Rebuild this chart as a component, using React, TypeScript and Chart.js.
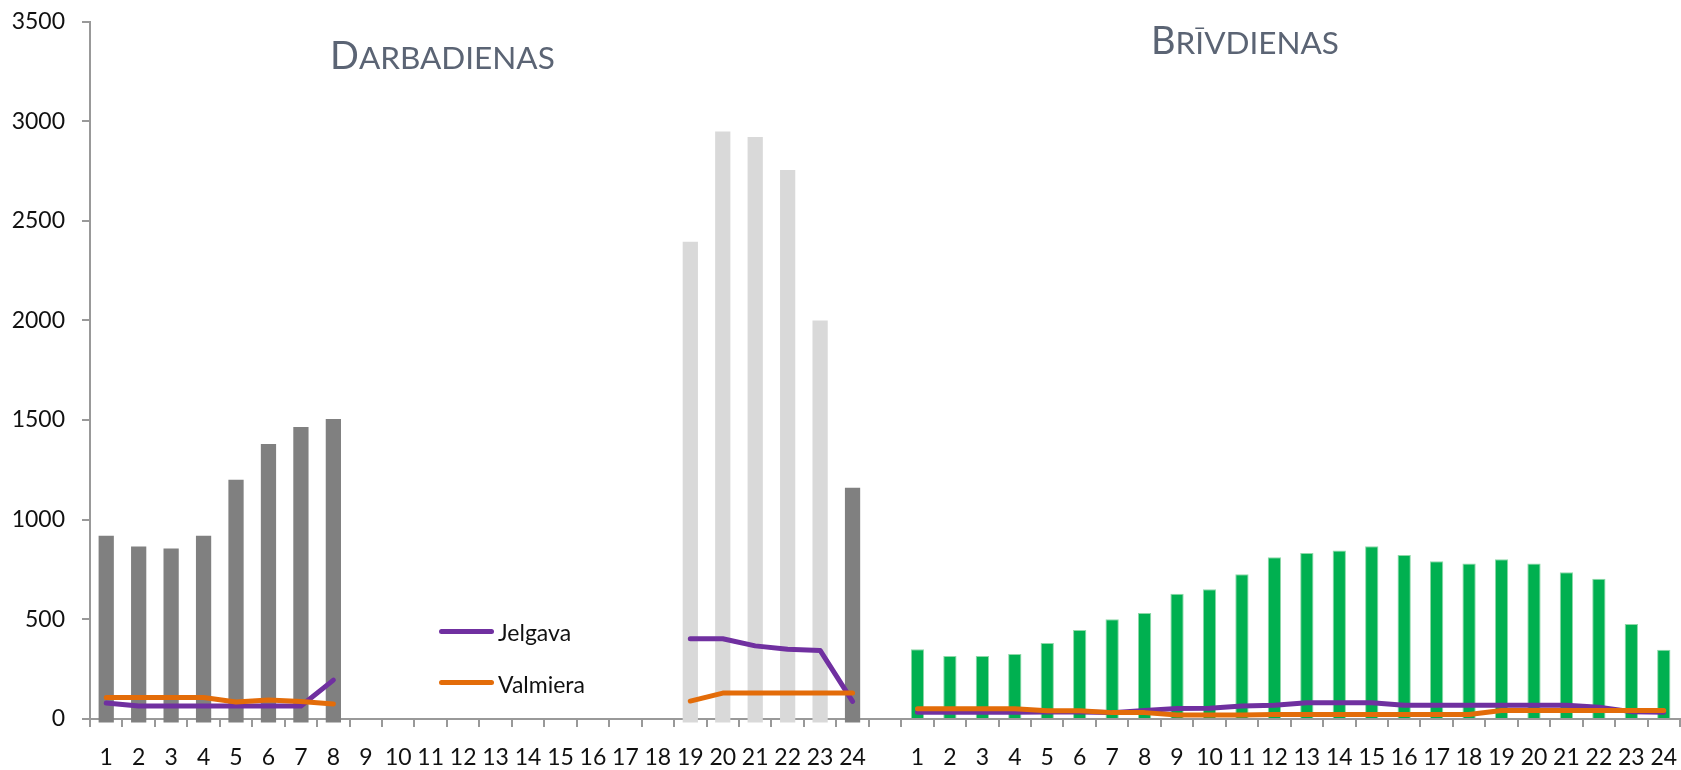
import React, { useEffect, useRef } from "react";
import { Chart, registerables } from "chart.js";

Chart.register(...registerables);

// Hour labels for the two panels (work days, then days off)
const workdayHours = ["1","2","3","4","5","6","7","8","9","10","11","12","13","14","15","16","17","18","19","20","21","22","23","24"];
const weekendHours = ["1","2","3","4","5","6","7","8","9","10","11","12","13","14","15","16","17","18","19","20","21","22","23","24"];

// Darbadienas (work days) bars
const darbadienasDark = [920, 865, 855, 920, 1200, 1380, 1465, 1505, null, null, null, null, null, null, null, null, null, null, null, null, null, null, null, 1160];
const darbadienasLight = [null, null, null, null, null, null, null, null, null, null, null, null, null, null, null, null, null, null, 2395, 2948, 2920, 2755, 2000, null];

// Brīvdienas (days off) bars
const brivdienasBars = [350, 316, 316, 326, 381, 447, 500, 532, 629, 651, 726, 812, 833, 845, 867, 823, 792, 780, 802, 780, 736, 704, 477, 348];

// Lines
const jelgavaWork = [80, 65, 65, 65, 65, 65, 65, 195, null, null, null, null, null, null, null, null, null, null, 403, 403, 367, 350, 344, 88];
const jelgavaWeekend = [34, 34, 34, 34, 35, 35, 32, 43, 53, 54, 65, 69, 82, 82, 82, 69, 69, 69, 69, 69, 69, 59, 37, 34];
const valmieraWork = [108, 108, 108, 108, 85, 95, 88, 75, null, null, null, null, null, null, null, null, null, null, 90, 130, 130, 130, 130, 130];
const valmieraWeekend = [52, 52, 52, 52, 42, 42, 32, 32, 20, 20, 20, 22, 23, 23, 23, 23, 23, 23, 43, 43, 43, 43, 43, 43];

// Y axis ticks
const yMin = 0;
const yMax = 3500;
const yStep = 500;

const noneWeekend: (number | null)[] = weekendHours.map(() => null);
const noneWork: (number | null)[] = workdayHours.map(() => null);

const join = (a: (number | null)[], b: (number | null)[]) => [...a, null, ...b];
const categories = [...workdayHours, "", ...weekendHours];

const FONT = "Lato";

export default function App() {
  const ref = useRef<HTMLCanvasElement | null>(null);

  useEffect(() => {
    if (!ref.current) return;
    const lineCommon = {
      type: "line",
      borderWidth: 5,
      pointRadius: 0,
      borderCapStyle: "round",
      borderJoinStyle: "round",
      tension: 0,
      spanGaps: false,
    };
    const chart = new Chart(ref.current, {
      type: "bar",
      data: {
        labels: categories,
        datasets: [
          {
            ...lineCommon,
            label: "Valmiera",
            data: join(valmieraWork, valmieraWeekend),
            borderColor: "#E36C09",
            backgroundColor: "#E36C09",
            order: 0,
          } as any,
          {
            ...lineCommon,
            label: "Jelgava",
            data: join(jelgavaWork, jelgavaWeekend),
            borderColor: "#7030A0",
            backgroundColor: "#7030A0",
            order: 1,
          } as any,
          {
            type: "bar",
            label: "Darbadienas",
            data: join(darbadienasDark, noneWeekend),
            backgroundColor: "#808080",
            grouped: false,
            categoryPercentage: 1,
            barPercentage: 0.47,
            base: -18,
            clip: false,
            order: 2,
          } as any,
          {
            type: "bar",
            label: "Darbadienas (2)",
            data: join(darbadienasLight, noneWeekend),
            backgroundColor: "#D9D9D9",
            grouped: false,
            categoryPercentage: 1,
            barPercentage: 0.47,
            base: -18,
            clip: false,
            order: 2,
          } as any,
          {
            type: "bar",
            label: "Brīvdienas",
            data: join(noneWork, brivdienasBars),
            backgroundColor: "#00B050",
            borderColor: "#8ed9a8",
            borderWidth: 1,
            grouped: false,
            categoryPercentage: 1,
            barPercentage: 0.41,
            order: 2,
          } as any,
        ],
      },
      options: {
        responsive: true,
        maintainAspectRatio: false,
        animation: false,
        layout: { padding: { top: 21.5, right: 1, left: 0, bottom: 0 } },
        plugins: {
          legend: { display: false },
          tooltip: { enabled: false },
          title: { display: false },
        },
        scales: {
          x: {
            offset: true,
            grid: {
              display: true,
              offset: true,
              drawOnChartArea: false,
              drawTicks: true,
              tickLength: 8,
              color: "#999999",
              lineWidth: 2,
            },
            border: { display: true, color: "#999999", width: 2 },
            ticks: {
              autoSkip: false,
              maxRotation: 0,
              minRotation: 0,
              padding: 19,
              color: "#111111",
              font: { family: FONT, size: 23, lineHeight: 1 },
            },
            afterFit: (s: any) => {
              s.height = 51;
              s.paddingLeft = 0;
              s.paddingRight = 0;
            },
          },
          y: {
            min: yMin,
            max: yMax,
            ticks: {
              stepSize: yStep,
              padding: 17,
              color: "#111111",
              font: { family: FONT, size: 23 },
              callback: (v: any) => String(v),
            },
            grid: {
              display: true,
              drawOnChartArea: false,
              drawTicks: true,
              tickLength: 8,
              color: "#999999",
              lineWidth: 2,
            },
            border: { display: true, color: "#999999", width: 2 },
            afterFit: (s: any) => {
              s.width = 90;
              s.paddingTop = 0;
              s.paddingBottom = 0;
            },
          },
        },
      },
    });
    return () => chart.destroy();
  }, []);

  const titleStyle: React.CSSProperties = {
    position: "absolute",
    fontFamily: FONT,
    fontSize: 38,
    lineHeight: "38px",
    color: "#5b6474",
    whiteSpace: "nowrap",
  };
  const smallCap: React.CSSProperties = { fontSize: 31.5, textTransform: "uppercase" };
  const legendText: React.CSSProperties = {
    position: "absolute",
    fontFamily: FONT,
    fontSize: 23,
    lineHeight: "23px",
    color: "#111111",
    whiteSpace: "nowrap",
  };
  const legendLine = (color: string, top: number): React.CSSProperties => ({
    position: "absolute",
    left: 439,
    top,
    width: 55,
    height: 5,
    borderRadius: 2.5,
    background: color,
  });

  return (
    <div style={{ position: "absolute", left: 0, top: 0, width: 1681, height: 770, background: "#ffffff" }}>
      <canvas ref={ref} />
      <div style={{ ...titleStyle, left: 330, top: 35 }}>
        D<span style={smallCap}>arbadienas</span>
      </div>
      <div style={{ ...titleStyle, left: 1151, top: 20 }}>
        B<span style={smallCap}>rīvdienas</span>
      </div>
      <div style={legendLine("#7030A0", 628.5)} />
      <div style={{ ...legendText, left: 498, top: 621 }}>Jelgava</div>
      <div style={legendLine("#E36C09", 680)} />
      <div style={{ ...legendText, left: 498, top: 673 }}>Valmiera</div>
    </div>
  );
}
